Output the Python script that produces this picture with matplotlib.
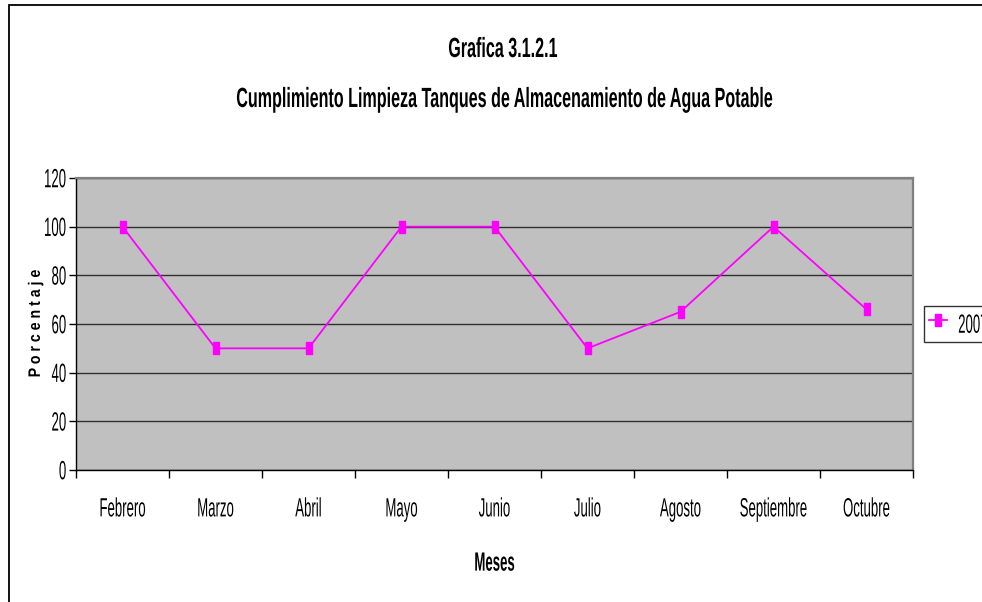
import matplotlib
matplotlib.use("Agg")
import matplotlib.pyplot as plt
from matplotlib.path import Path
from matplotlib.patches import Rectangle
from matplotlib import patheffects
from matplotlib.transforms import Affine2D
from matplotlib.textpath import TextToPath

plt.rcParams['font.family'] = ['Liberation Sans', 'DejaVu Sans']

meses = ["Febrero", "Marzo", "Abril", "Mayo", "Junio", "Julio", "Agosto", "Septiembre", "Octubre"]
valores_2007 = [100, 50, 50, 100, 100, 50, 65, 100, 66]
yticks = [0, 20, 40, 60, 80, 100, 120]
serie = "2007"

FSC = TextToPath.FONT_SCALE


class Tall(patheffects.AbstractPathEffect):
    """Stretch glyphs vertically to imitate a tall, narrow typeface."""
    def __init__(self, sy=2.0, anchor='mid'):
        super().__init__()
        self.sy = sy
        self.ay = {'base': 0.0, 'mid': 0.36 * FSC, 'top': 0.73 * FSC}[anchor]

    def draw_path(self, renderer, gc, tpath, affine, rgbFace=None):
        t = Affine2D().translate(0, -self.ay).scale(1, self.sy).translate(0, self.ay) + affine
        renderer.draw_path(gc, tpath, t, rgbFace)


W, H = 982, 602
fig = plt.figure(figsize=(W / 100, H / 100), dpi=100)
fig.patch.set_facecolor('white')

fig.add_artist(Rectangle((8.5 / W, -0.05), 1.1, 1 - 5 / H + 0.05, transform=fig.transFigure,
                         fill=False, edgecolor='black', linewidth=1.3))

left, right, top, bottom = 76, 913, 178, 470
ax = fig.add_axes([left / W, 1 - bottom / H, (right - left) / W, (bottom - top) / H])
ax.set_facecolor('#c0c0c0')

x = list(range(len(meses)))
rect = Path([(-0.5, -1), (0.5, -1), (0.5, 1), (-0.5, 1), (-0.5, -1)],
            [Path.MOVETO, Path.LINETO, Path.LINETO, Path.LINETO, Path.CLOSEPOLY])
line, = ax.plot(x, valores_2007, color='#ff00ff', linewidth=1.3, marker=rect,
                markersize=8.5, markerfacecolor='#ff00ff', markeredgecolor='#ff00ff', zorder=3)

FS = 9.5   # nominal size; glyphs are drawn twice as tall
SY = 2.0
ax.set_xlim(-0.5, len(meses) - 0.5)
ax.set_ylim(0, 120)
ax.set_yticks(yticks)
ax.set_yticklabels([str(v) for v in yticks], fontsize=FS)
ax.set_xticks([i - 0.5 for i in range(len(meses) + 1)])
ax.set_xticklabels([])
ax.set_xticks(x, minor=True)
ax.set_xticklabels(meses, minor=True, fontsize=FS)
ax.tick_params(axis='x', which='minor', length=0, pad=20)
ax.tick_params(axis='x', which='major', length=6, direction='out', width=1)
ax.tick_params(axis='y', length=5, direction='out', width=1, pad=2)
ax.yaxis.grid(True, color='#303030', linewidth=1)
ax.set_axisbelow(True)

for lbl in ax.get_xticklabels(minor=True):
    lbl.set_path_effects([Tall(SY, 'top')])
for lbl in ax.get_yticklabels():
    lbl.set_path_effects([Tall(SY, 'mid')])

for s in ['top', 'right']:
    ax.spines[s].set_color('#808080')
    ax.spines[s].set_linewidth(1.6)
for s in ['left', 'bottom']:
    ax.spines[s].set_color('black')
    ax.spines[s].set_linewidth(1)

yl = ax.set_ylabel("P o r c e n t a j e", fontsize=10.2, fontweight='bold')
ax.yaxis.set_label_coords((42 - left) / (right - left), 0.5)
yl.set_path_effects([Tall(1 / 0.85, 'mid')])

xl = ax.set_xlabel("Meses", fontsize=FS, fontweight='bold')
ax.xaxis.set_label_coords(0.5, -(552 - bottom) / (bottom - top))
xl.set_path_effects([Tall(SY, 'top')])

t1 = fig.text(503 / W, 1 - 57 / H, "Grafica 3.1.2.1", ha='center', va='baseline',
              fontsize=11.6, fontweight='bold')
t2 = fig.text(505 / W, 1 - 107 / H, "Cumplimiento Limpieza Tanques de Almacenamiento de Agua Potable",
              ha='center', va='baseline', fontsize=11.6, fontweight='bold')
for t in (t1, t2):
    t.set_path_effects([Tall(1 / 0.58, 'base')])

leg = fig.legend([line], [serie], loc='center left', bbox_to_anchor=(924 / W, 1 - 324 / H),
                 frameon=True, fancybox=False, edgecolor='black', fontsize=FS,
                 handlelength=1.36, handletextpad=0.83, handleheight=2.5,
                 borderpad=0.4, borderaxespad=0)
leg.get_frame().set_linewidth(1)
for t in leg.get_texts():
    t.set_path_effects([Tall(SY, 'mid')])

fig.savefig("out.png", dpi=100)
